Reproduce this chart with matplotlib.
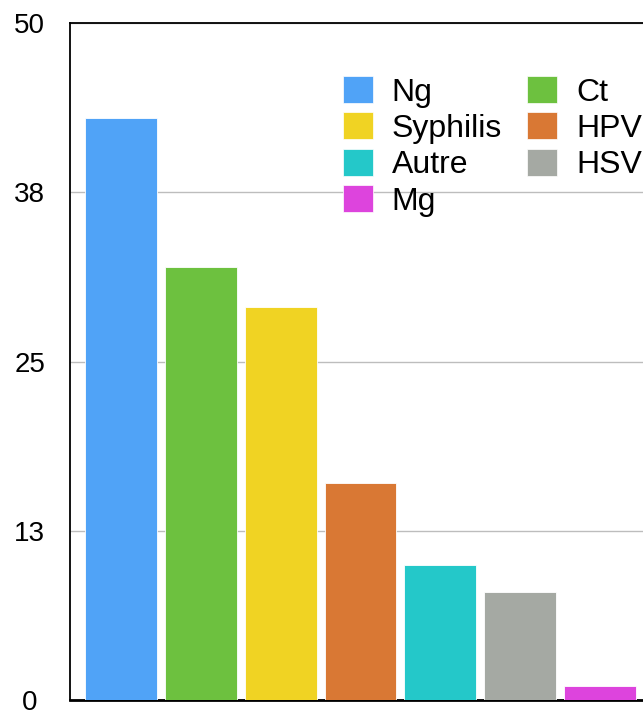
import matplotlib
matplotlib.use("Agg")
import matplotlib.pyplot as plt
from matplotlib.patches import Patch

categories = ["Ng", "Ct", "Syphilis", "HPV", "Autre", "HSV", "Mg"]
values = [43, 32, 29, 16, 10, 8, 1]
colors = ["#50A3F7", "#6DC13F", "#F0D323", "#D97834", "#24C8C9", "#A5A9A3", "#DD44DD"]
tick_values = [0, 12.5, 25, 37.5, 50]
tick_labels = ["0", "13", "25", "38", "50"]
legend_order = ["Ng", "Syphilis", "Autre", "Mg", "Ct", "HPV", "HSV"]

plt.rcParams['font.family'] = ['Liberation Sans', 'DejaVu Sans']

W, H = 643, 713
fig = plt.figure(figsize=(W / 100, H / 100), dpi=100)
ax = fig.add_axes([70 / W, 13 / H, (W - 70) / W, (700 - 23) / H])

x = list(range(len(categories)))
ax.bar(x, values, width=0.9, color=colors, edgecolor="#FFFFFF", linewidth=0.6, alpha=1, zorder=3)

ax.set_xlim(-0.6375, 6.5375)
ax.set_ylim(0, 50)
ax.set_yticks(tick_values)
ax.set_yticklabels(tick_labels, fontsize=20)
for lab in ax.get_yticklabels():
    lab.set_horizontalalignment('center')
ax.tick_params(axis='y', length=0, pad=29)
ax.set_xticks([])

ax.grid(axis='y', color='#BDBDBD', linewidth=1.0, zorder=0)
for s in ['right']:
    ax.spines[s].set_visible(False)
for s in ['left', 'top', 'bottom']:
    ax.spines[s].set_color('black')
    ax.spines[s].set_linewidth(1.3)
ax.spines['bottom'].set_linewidth(2)

cmap = dict(zip(categories, colors))
handles = [Patch(facecolor=cmap[c], edgecolor='#FFFFFF', linewidth=0.5) for c in legend_order]
leg = fig.legend(handles, legend_order, ncol=2, loc='upper left',
                 bbox_to_anchor=(343 / W, 1 - 76 / H), bbox_transform=fig.transFigure,
                 frameon=False, fontsize=23, handlelength=0.93, handleheight=0.93,
                 handletextpad=0.6, labelspacing=0.15, columnspacing=0.78, borderpad=0,
                 borderaxespad=0)

fig.savefig("out.png", dpi=100)
